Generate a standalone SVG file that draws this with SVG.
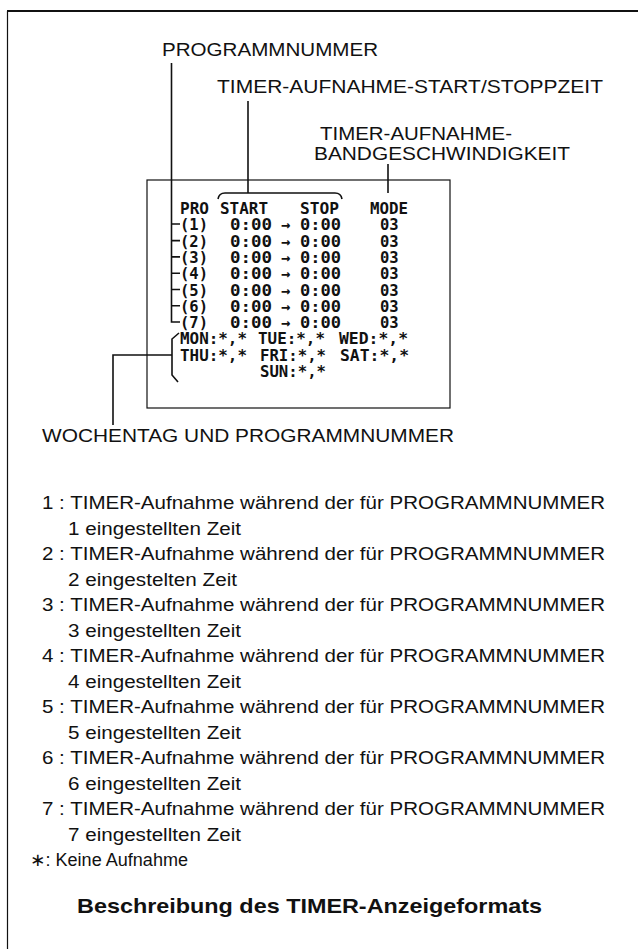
<svg xmlns="http://www.w3.org/2000/svg" width="638" height="949" viewBox="0 0 638 949">
<style>
.lbl{font-family:"Liberation Sans",Arial,sans-serif;font-size:17.5px;fill:#111}
.body{font-family:"Liberation Sans",Arial,sans-serif;font-size:17.5px;fill:#111}
.title{font-family:"Liberation Sans",Arial,sans-serif;font-size:20.5px;font-weight:bold;fill:#111}
.lcd{font-family:"DejaVu Sans Mono",monospace;font-size:15.5px;font-weight:bold;fill:#111}
.ln{stroke:#111;stroke-width:1.6;fill:none}
.thin{stroke:#111;stroke-width:1.2;fill:none}
</style>
<rect width="638" height="949" fill="#fff"/>
<g id="frame">
<line class="ln" x1="7" y1="11" x2="638" y2="11" style="stroke-width:2"/>
<line class="thin" x1="7.5" y1="11" x2="7.5" y2="949"/>
</g>
<g id="labels">
<text class="lbl" x="162" y="56" textLength="216" lengthAdjust="spacingAndGlyphs">PROGRAMMNUMMER</text>
<text class="lbl" x="217" y="93" textLength="386" lengthAdjust="spacingAndGlyphs">TIMER-AUFNAHME-START/STOPPZEIT</text>
<text class="lbl" x="320" y="140" textLength="192" lengthAdjust="spacingAndGlyphs">TIMER-AUFNAHME-</text>
<text class="lbl" x="314" y="160" textLength="256" lengthAdjust="spacingAndGlyphs">BANDGESCHWINDIGKEIT</text>
<text class="lbl" x="42" y="442" textLength="412" lengthAdjust="spacingAndGlyphs">WOCHENTAG UND PROGRAMMNUMMER</text>
</g>
<g id="display">
<rect class="thin" x="147" y="180" width="303" height="228"/>
<text class="lcd" x="180" y="214" textLength="29" lengthAdjust="spacingAndGlyphs">PRO</text>
<text class="lcd" x="220" y="214" textLength="48" lengthAdjust="spacingAndGlyphs">START</text>
<text class="lcd" x="300" y="214" textLength="39" lengthAdjust="spacingAndGlyphs">STOP</text>
<text class="lcd" x="370" y="214" textLength="38" lengthAdjust="spacingAndGlyphs">MODE</text>
<g id="rows">
<text class="lcd" x="180" y="230.3">(1)</text><text class="lcd" x="230" y="230.3" textLength="42" lengthAdjust="spacingAndGlyphs">0:00</text><text class="lcd" x="281" y="230.3">→</text><text class="lcd" x="300" y="230.3" textLength="41" lengthAdjust="spacingAndGlyphs">0:00</text><text class="lcd" x="380" y="230.3">03</text>
<text class="lcd" x="180" y="246.6">(2)</text><text class="lcd" x="230" y="246.6" textLength="42" lengthAdjust="spacingAndGlyphs">0:00</text><text class="lcd" x="281" y="246.6">→</text><text class="lcd" x="300" y="246.6" textLength="41" lengthAdjust="spacingAndGlyphs">0:00</text><text class="lcd" x="380" y="246.6">03</text>
<text class="lcd" x="180" y="262.9">(3)</text><text class="lcd" x="230" y="262.9" textLength="42" lengthAdjust="spacingAndGlyphs">0:00</text><text class="lcd" x="281" y="262.9">→</text><text class="lcd" x="300" y="262.9" textLength="41" lengthAdjust="spacingAndGlyphs">0:00</text><text class="lcd" x="380" y="262.9">03</text>
<text class="lcd" x="180" y="279.2">(4)</text><text class="lcd" x="230" y="279.2" textLength="42" lengthAdjust="spacingAndGlyphs">0:00</text><text class="lcd" x="281" y="279.2">→</text><text class="lcd" x="300" y="279.2" textLength="41" lengthAdjust="spacingAndGlyphs">0:00</text><text class="lcd" x="380" y="279.2">03</text>
<text class="lcd" x="180" y="295.5">(5)</text><text class="lcd" x="230" y="295.5" textLength="42" lengthAdjust="spacingAndGlyphs">0:00</text><text class="lcd" x="281" y="295.5">→</text><text class="lcd" x="300" y="295.5" textLength="41" lengthAdjust="spacingAndGlyphs">0:00</text><text class="lcd" x="380" y="295.5">03</text>
<text class="lcd" x="180" y="311.8">(6)</text><text class="lcd" x="230" y="311.8" textLength="42" lengthAdjust="spacingAndGlyphs">0:00</text><text class="lcd" x="281" y="311.8">→</text><text class="lcd" x="300" y="311.8" textLength="41" lengthAdjust="spacingAndGlyphs">0:00</text><text class="lcd" x="380" y="311.8">03</text>
<text class="lcd" x="180" y="328.1">(7)</text><text class="lcd" x="230" y="328.1" textLength="42" lengthAdjust="spacingAndGlyphs">0:00</text><text class="lcd" x="281" y="328.1">→</text><text class="lcd" x="300" y="328.1" textLength="41" lengthAdjust="spacingAndGlyphs">0:00</text><text class="lcd" x="380" y="328.1">03</text>
</g>
<g id="days">
<text class="lcd" x="180" y="344.4" textLength="67" lengthAdjust="spacingAndGlyphs">MON:*,*</text><text class="lcd" x="258" y="344.4" textLength="67" lengthAdjust="spacingAndGlyphs">TUE:*,*</text><text class="lcd" x="339" y="344.4" textLength="69" lengthAdjust="spacingAndGlyphs">WED:*,*</text>
<text class="lcd" x="180" y="360.7" textLength="67" lengthAdjust="spacingAndGlyphs">THU:*,*</text><text class="lcd" x="260" y="360.7" textLength="66" lengthAdjust="spacingAndGlyphs">FRI:*,*</text><text class="lcd" x="340" y="360.7" textLength="69" lengthAdjust="spacingAndGlyphs">SAT:*,*</text>
<text class="lcd" x="260" y="377" textLength="66" lengthAdjust="spacingAndGlyphs">SUN:*,*</text>
</g>
</g>
<g id="connectors">
<path class="ln" d="M171.5 63 V322 H180"/>
<path class="ln" d="M171.5 224 H180 M171.5 240.6 H180 M171.5 256.9 H180 M171.5 273.2 H180 M171.5 289.5 H180 M171.5 305.8 H180"/>
<path class="ln" d="M248 101 V193"/>
<path class="ln" d="M218 199 Q219 193 225 193 H335 Q341 193 342 199"/>
<path class="ln" d="M388 164 V193"/>
<path class="ln" d="M179 333 L172 339 V375 L178 382"/>
<path class="ln" d="M172 355 H113 V425"/>
</g>
<g id="legend">
<text class="body" x="42" y="509" textLength="563" lengthAdjust="spacingAndGlyphs">1 : TIMER-Aufnahme während der für PROGRAMMNUMMER</text>
<text class="body" x="68" y="534.5" textLength="173" lengthAdjust="spacingAndGlyphs">1 eingestellten Zeit</text>
<text class="body" x="42" y="560" textLength="563" lengthAdjust="spacingAndGlyphs">2 : TIMER-Aufnahme während der für PROGRAMMNUMMER</text>
<text class="body" x="68" y="585.5" textLength="169" lengthAdjust="spacingAndGlyphs">2 eingestelten Zeit</text>
<text class="body" x="42" y="611" textLength="563" lengthAdjust="spacingAndGlyphs">3 : TIMER-Aufnahme während der für PROGRAMMNUMMER</text>
<text class="body" x="68" y="636.5" textLength="173" lengthAdjust="spacingAndGlyphs">3 eingestellten Zeit</text>
<text class="body" x="42" y="662" textLength="563" lengthAdjust="spacingAndGlyphs">4 : TIMER-Aufnahme während der für PROGRAMMNUMMER</text>
<text class="body" x="68" y="687.5" textLength="173" lengthAdjust="spacingAndGlyphs">4 eingestellten Zeit</text>
<text class="body" x="42" y="713" textLength="563" lengthAdjust="spacingAndGlyphs">5 : TIMER-Aufnahme während der für PROGRAMMNUMMER</text>
<text class="body" x="68" y="738.5" textLength="173" lengthAdjust="spacingAndGlyphs">5 eingestellten Zeit</text>
<text class="body" x="42" y="764" textLength="563" lengthAdjust="spacingAndGlyphs">6 : TIMER-Aufnahme während der für PROGRAMMNUMMER</text>
<text class="body" x="68" y="789.5" textLength="173" lengthAdjust="spacingAndGlyphs">6 eingestellten Zeit</text>
<text class="body" x="42" y="815" textLength="563" lengthAdjust="spacingAndGlyphs">7 : TIMER-Aufnahme während der für PROGRAMMNUMMER</text>
<text class="body" x="68" y="840.5" textLength="173" lengthAdjust="spacingAndGlyphs">7 eingestellten Zeit</text>
<text class="body" x="30" y="866" textLength="158" lengthAdjust="spacingAndGlyphs">∗: Keine Aufnahme</text>
<text class="title" x="77" y="913" textLength="465" lengthAdjust="spacingAndGlyphs">Beschreibung des TIMER-Anzeigeformats</text>
</g>
</svg>
